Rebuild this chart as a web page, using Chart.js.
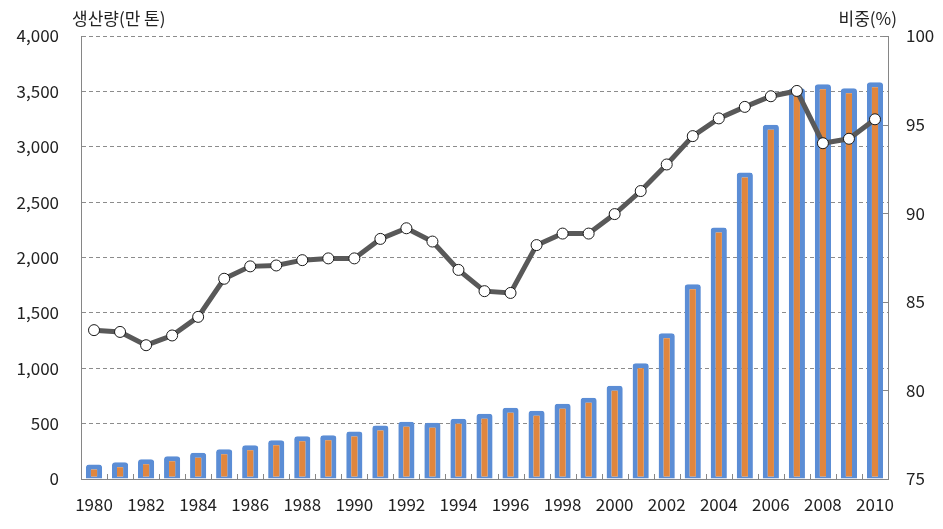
<!DOCTYPE html>
<html>
<head>
<meta charset="utf-8">
<style>
html,body{margin:0;padding:0;background:#fff;}
#wrap{width:943px;height:529px;}
</style>
<script src="https://cdn.jsdelivr.net/npm/chart.js@4"></script>
</head>
<body>
<div id="wrap"><canvas id="c" width="943" height="529"></canvas></div>
<script>
const years = ['1980','1981','1982','1983','1984','1985','1986','1987','1988','1989','1990','1991','1992','1993','1994','1995','1996','1997','1998','1999','2000','2001','2002','2003','2004','2005','2006','2007','2008','2009','2010'];
const production = [130,152,178,205,237,268,305,349,385,394,430,482,518,508,545,590,644,617,680,734,843,1045,1316,1758,2270,2767,3198,3528,3564,3528,3582];
const share = [83.4,83.3,82.55,83.1,84.15,86.3,87.0,87.05,87.35,87.45,87.45,88.55,89.15,88.4,86.8,85.6,85.5,88.2,88.85,88.85,89.95,91.25,92.75,94.35,95.35,96.0,96.6,96.9,93.95,94.2,95.3];
const leftTitle = '생산량(만 톤)';
const rightTitle = '비중(%)';

const FONT = "'Noto Sans CJK KR','Noto Sans',sans-serif";
const TXT = '#222222';

const decor = {
  id:'decor',
  afterDatasetsDraw(chart){
    const ctx = chart.ctx, a = chart.chartArea, x = chart.scales.x, yR = chart.scales.y1;
    ctx.save();
    ctx.strokeStyle = '#868686';
    ctx.lineWidth = 1;
    const n = years.length;
    for(let i=1;i<n;i++){
      const px = Math.round((x.getPixelForValue(i-1)+x.getPixelForValue(i))/2)+0.5;
      ctx.beginPath(); ctx.moveTo(px,a.bottom); ctx.lineTo(px,a.bottom-5); ctx.stroke();
    }
    yR.ticks.forEach(t=>{
      const py = Math.round(yR.getPixelForValue(t.value))+0.5;
      ctx.beginPath(); ctx.moveTo(a.right,py); ctx.lineTo(a.right-5,py); ctx.stroke();
    });
    ctx.restore();
  },
  afterDraw(chart){
    const ctx = chart.ctx;
    ctx.save();
    ctx.fillStyle = TXT;
    ctx.font = '17px '+FONT;
    ctx.textBaseline = 'middle';
    ctx.textAlign = 'left';
    ctx.fillText(leftTitle, 72, 19);
    ctx.textAlign = 'right';
    ctx.fillText(rightTitle, 897, 19);
    ctx.restore();
  }
};

new Chart(document.getElementById('c'), {
  data:{
    labels: years,
    datasets:[
      {
        type:'line',
        label:'비중',
        data: share,
        yAxisID:'y1',
        order:0,
        borderColor:'#595959',
        borderWidth:5,
        pointRadius:5.5,
        pointBackgroundColor:'#ffffff',
        pointBorderColor:'#1a1a1a',
        pointBorderWidth:1,
        tension:0
      },
      {
        type:'bar',
        label:'생산량',
        data: production,
        yAxisID:'y',
        order:1,
        backgroundColor:'#E0863E',
        borderColor:'#5B8DD5',
        borderWidth:{top:5,left:5,right:5,bottom:2},
        borderSkipped:false,
        borderRadius:{topLeft:3,topRight:3,bottomLeft:0,bottomRight:0},
        barPercentage:0.62,
        categoryPercentage:1.0
      }
    ]
  },
  options:{
    responsive:false,
    animation:false,
    layout:{padding:{top:36,left:0,right:0,bottom:0}},
    plugins:{legend:{display:false},tooltip:{enabled:false}},
    scales:{
      x:{
        offset:true,
        grid:{display:false,drawTicks:false},
        border:{display:true,color:'#868686',width:1},
        ticks:{
          autoSkip:false,maxRotation:0,padding:15,color:TXT,
          font:{family:FONT,size:17},
          callback:function(v,i){return i%2===0?years[i]:'';}
        },
        afterFit:function(s){s.height=50;}
      },
      y:{
        position:'left',min:0,max:4000,
        ticks:{stepSize:500,padding:22,color:TXT,font:{family:FONT,size:17},
          callback:function(v){return v.toLocaleString('en-US');}},
        grid:{color:'#8c8c8c',lineWidth:1,drawTicks:false},
        border:{display:true,color:'#868686',width:1,dash:[4,3]},
        afterFit:function(s){s.width=81;}
      },
      y1:{
        position:'right',min:75,max:100,
        ticks:{stepSize:5,padding:18,color:TXT,font:{family:FONT,size:17}},
        grid:{display:false,drawTicks:false},
        border:{display:true,color:'#868686',width:1},
        afterFit:function(s){s.width=55;}
      }
    }
  },
  plugins:[decor]
});
</script>
</body>
</html>
